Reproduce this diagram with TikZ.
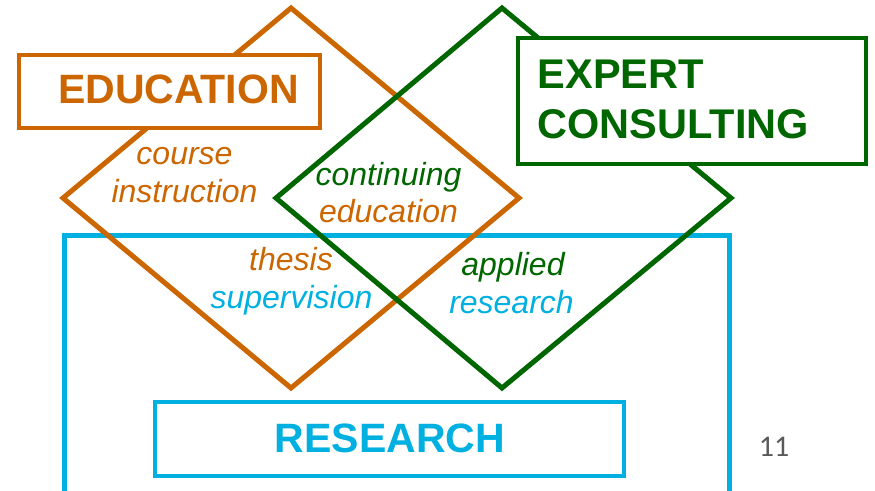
\documentclass[tikz,border=0pt]{standalone}
\usepackage{fontspec}
\setmainfont{Liberation Sans}
\newfontfamily\numfont{Carlito}
\definecolor{eduor}{HTML}{CC6600}
\definecolor{expgr}{HTML}{006600}
\definecolor{resbl}{HTML}{00B0E0}
\definecolor{pgray}{HTML}{595959}
\tikzset{
  lbl/.style={inner sep=0pt, anchor=base, font=\fontsize{32}{37}\selectfont\itshape},
  title/.style={inner sep=0pt, font=\fontsize{41}{50}\selectfont\bfseries},
  box/.style={draw=#1, fill=white, line width=4pt, inner sep=0pt},
  dia/.style={line width=5pt, line join=miter}
}
\begin{document}
\begin{tikzpicture}[x=1pt,y=-1pt]
\clip (0,0) rectangle (875,490);
\fill[white] (0,0) rectangle (875,490);
% big research rectangle
\coordinate (bigTL) at (64.5,235.5);
\coordinate (bigBR) at (729,505);
\draw[resbl, line width=5pt] (bigTL) rectangle (bigBR);
% education diamond
\coordinate (oT) at (291,8);
\coordinate (oL) at (63,198);
\coordinate (oB) at (291,388);
\coordinate (oR) at (519,198);
\draw[dia, eduor] (oT) -- (oR) -- (oB) -- (oL) -- cycle;
% expert diamond
\coordinate (gT) at (502,8);
\coordinate (gL) at (276,198);
\coordinate (gB) at (502,388);
\coordinate (gR) at (731,198);
\draw[dia, expgr] (gT) -- (gR) -- (gB) -- (gL) -- cycle;
% title boxes
\node[box=eduor, minimum width=301.5pt, minimum height=73.5pt] (edubox) at (169.25,91.25) {};
\node[title, text=eduor, anchor=base] (edutext) at (178.5,103) {EDUCATION};
\node[box=expgr, minimum width=347.5pt, minimum height=126pt] (expbox) at (691.75,101) {};
\node[title, text=expgr, anchor=base west, font=\fontsize{41.5}{50}\selectfont\bfseries] (exp1) at (537.5,88) {EXPERT};
\node[title, text=expgr, anchor=base west, font=\fontsize{41.5}{50}\selectfont\bfseries] (exp2) at (537.5,138) {CONSULTING};
\node[box=resbl, minimum width=469pt, minimum height=74pt] (resbox) at (389.5,439) {};
\node[title, text=resbl, anchor=base] (restext) at (390,452) {RESEARCH};
% labels
\node[lbl, text=eduor] (course) at (184.5,164) {course};
\node[lbl, text=eduor] (instr) at (184.5,202) {instruction};
\node[lbl, text=expgr] (cont) at (388.5,185) {continuing};
\node[lbl, text=eduor] (educ) at (388.5,222) {education};
\node[lbl, text=eduor] (thesis) at (291,270) {thesis};
\node[lbl, text=resbl] (superv) at (291.5,308) {supervision};
\node[lbl, text=expgr] (applied) at (513,275) {applied};
\node[lbl, text=resbl] (research) at (511.5,313) {research};
\node[inner sep=0pt, anchor=base, text=pgray, font=\numfont\fontsize{30}{36}\selectfont] (pnum) at (774,456) {11};
\end{tikzpicture}
\end{document}
